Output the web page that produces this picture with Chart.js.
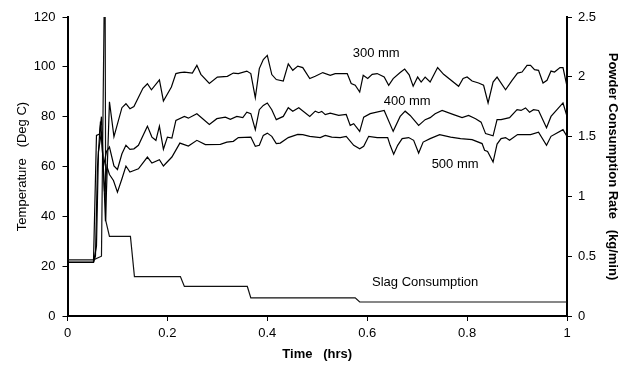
<!DOCTYPE html>
<html>
<head>
<meta charset="utf-8">
<script src="https://cdn.jsdelivr.net/npm/chart.js@4/dist/chart.umd.min.js"></script>
<style>
  html, body { margin: 0; padding: 0; background: #fff; }
  canvas { display: block; }
</style>
</head>
<body>
<canvas id="chart" width="631" height="365"></canvas>
<script>
// time (hrs) and temperature (deg C)
const t300 = [0, 0.052, 0.058, 0.064, 0.068, 0.076, 0.084, 0.093, 0.109, 0.117, 0.125, 0.133, 0.151, 0.16, 0.168, 0.184, 0.192, 0.208, 0.217, 0.225, 0.234, 0.25, 0.259, 0.267, 0.284, 0.3, 0.32, 0.332, 0.342, 0.359, 0.367, 0.376, 0.384, 0.392, 0.4, 0.409, 0.418, 0.432, 0.442, 0.451, 0.461, 0.471, 0.485, 0.496, 0.511, 0.526, 0.536, 0.56, 0.568, 0.576, 0.585, 0.592, 0.601, 0.61, 0.62, 0.634, 0.643, 0.652, 0.666, 0.675, 0.684, 0.692, 0.701, 0.708, 0.716, 0.726, 0.741, 0.753, 0.783, 0.792, 0.8, 0.81, 0.823, 0.833, 0.842, 0.852, 0.86, 0.877, 0.89, 0.901, 0.91, 0.92, 0.927, 0.935, 0.943, 0.952, 0.96, 0.968, 0.975, 0.986, 0.992, 1.0];
const temp300 = [21.5, 21.5, 72.5, 73, 80, 38, 86, 72, 83.6, 85.2, 83.2, 84.1, 91.4, 93.2, 90.8, 94.8, 86.3, 91.9, 97.3, 97.7, 97.9, 97.5, 100.6, 97.0, 93.3, 95.9, 96.2, 97.5, 97.3, 98.3, 97.3, 87.6, 99.3, 102.9, 104.6, 96.9, 94.9, 94.3, 101.2, 98.6, 100.3, 99.7, 95.3, 96.2, 97.7, 96.6, 97.3, 97.3, 93.3, 92.6, 89.9, 96.6, 95.3, 97.0, 97.3, 95.9, 92.6, 95.3, 97.7, 99.1, 96.8, 92.2, 95.9, 93.9, 95.9, 93.9, 99.7, 97.0, 92.2, 95.3, 95.9, 94.3, 93.5, 92.6, 85.5, 93.9, 95.9, 90.8, 94.6, 97.5, 97.9, 100.6, 100.6, 98.9, 98.6, 93.5, 94.6, 98.3, 97.9, 99.7, 99.7, 92.2];

const t400 = [0, 0.052, 0.056, 0.06, 0.066, 0.072, 0.078, 0.084, 0.093, 0.1, 0.109, 0.117, 0.125, 0.133, 0.142, 0.16, 0.169, 0.177, 0.184, 0.192, 0.2, 0.209, 0.217, 0.234, 0.242, 0.259, 0.284, 0.299, 0.316, 0.326, 0.339, 0.351, 0.359, 0.367, 0.376, 0.384, 0.392, 0.4, 0.409, 0.418, 0.432, 0.442, 0.451, 0.463, 0.485, 0.496, 0.503, 0.509, 0.516, 0.526, 0.543, 0.558, 0.566, 0.573, 0.585, 0.593, 0.606, 0.634, 0.652, 0.666, 0.676, 0.686, 0.703, 0.716, 0.726, 0.736, 0.75, 0.773, 0.79, 0.803, 0.817, 0.828, 0.837, 0.852, 0.86, 0.868, 0.885, 0.9, 0.908, 0.917, 0.925, 0.933, 0.943, 0.959, 0.968, 0.992, 1.0];
const temp400 = [21.5, 21.5, 24, 60, 78, 60, 66, 67.8, 60.2, 58.8, 65.1, 68.5, 66.9, 67.1, 68.5, 76.2, 71.8, 70.5, 76.2, 66.9, 71.8, 71.4, 78.5, 80.1, 79.4, 81.2, 76.9, 79.2, 79.8, 78.9, 80.1, 79.6, 81.8, 81.2, 74.8, 82.8, 84.5, 85.5, 82.8, 78.8, 80.1, 83.6, 82.2, 83.6, 80.1, 82.2, 81.6, 82.1, 80.8, 81.4, 80.5, 80.9, 76.5, 77.2, 74.1, 79.8, 81.2, 82.5, 74.1, 80.1, 82.2, 80.5, 76.5, 78.8, 79.6, 81.2, 82.5, 80.8, 79.6, 80.5, 79.2, 77.8, 73.2, 72.3, 78.8, 78.8, 79.6, 82.8, 82.5, 83.5, 81.8, 82.8, 82.5, 75.6, 80.1, 85.5, 80.1];

const t500 = [0, 0.052, 0.058, 0.062, 0.068, 0.074, 0.079, 0.084, 0.092, 0.1, 0.109, 0.117, 0.125, 0.133, 0.142, 0.16, 0.169, 0.184, 0.192, 0.209, 0.225, 0.242, 0.259, 0.276, 0.306, 0.319, 0.332, 0.342, 0.367, 0.376, 0.384, 0.392, 0.4, 0.409, 0.418, 0.426, 0.442, 0.461, 0.471, 0.485, 0.506, 0.516, 0.529, 0.546, 0.558, 0.573, 0.585, 0.593, 0.603, 0.62, 0.641, 0.646, 0.653, 0.661, 0.67, 0.683, 0.693, 0.703, 0.712, 0.726, 0.745, 0.767, 0.787, 0.81, 0.83, 0.835, 0.841, 0.852, 0.86, 0.868, 0.877, 0.885, 0.901, 0.927, 0.943, 0.959, 0.968, 0.992, 1.0];
const temp500 = [21.5, 21.5, 28, 66, 74, 50, 60, 56.8, 54.4, 49.7, 55.1, 60.2, 57.8, 58.4, 59.1, 63.8, 61.4, 62.7, 60.2, 63.8, 69.4, 68.2, 70.5, 68.8, 68.9, 69.8, 70.1, 71.6, 71.8, 68.1, 68.5, 72.5, 73.4, 72.1, 69.2, 69.4, 71.6, 72.9, 72.8, 72.1, 71.6, 72.5, 71.8, 71.6, 72.1, 68.5, 67.1, 68.1, 72.1, 71.6, 71.6, 68.5, 64.9, 68.5, 71.2, 71.6, 70.5, 65.4, 69.8, 71.2, 72.8, 71.8, 71.2, 70.8, 69.2, 66.5, 66.0, 61.8, 69.0, 71.2, 71.6, 70.5, 72.8, 72.8, 73.8, 68.5, 72.1, 74.8, 72.1];

// slag consumption (kg/min), right axis
const tSlag = [0, 0.052, 0.068, 0.075, 0.0765, 0.084, 0.126, 0.134, 0.226, 0.234, 0.36, 0.367, 0.576, 0.585, 1.0];
const slag = [0.47, 0.47, 0.5, 3.2, 0.8, 0.665, 0.665, 0.33, 0.33, 0.247, 0.247, 0.152, 0.152, 0.117, 0.117];

// in-plot labels: [text, x, y, axis]
const labels = [
  ['300 mm', 0.618, 105.3, 'y'],
  ['400 mm', 0.68, 86.3, 'y'],
  ['500 mm', 0.776, 60.8, 'y'],
  ['Slag Consumption', 0.716, 0.28, 'y2']
];

const FONT = '"Liberation Sans", Arial, sans-serif';

function pts(xs, ys) {
  return xs.map((x, i) => ({ x, y: ys[i] }));
}

// 1 instead of 1.0, 2 instead of 2.0
const fmt = v => String(+Number(v).toFixed(2));

const textLabels = {
  id: 'textLabels',
  afterDatasetsDraw(chart) {
    const ctx = chart.ctx;
    ctx.save();
    ctx.font = '13px ' + FONT;
    ctx.fillStyle = '#000';
    ctx.textAlign = 'center';
    ctx.textBaseline = 'middle';
    labels.forEach(([txt, x, y, ax]) => {
      ctx.fillText(txt, chart.scales.x.getPixelForValue(x), chart.scales[ax].getPixelForValue(y));
    });
    ctx.restore();
  }
};

const lineStyle = { borderColor: '#000', borderWidth: 1.2, pointRadius: 0, tension: 0, fill: false };

const tickFont = { family: FONT, size: 13 };
const axisGrid = { drawOnChartArea: false, color: '#000', tickLength: 5, tickWidth: 1 };
const axisBorder = { color: '#000', width: 2 };

new Chart(document.getElementById('chart').getContext('2d'), {
  type: 'line',
  data: {
    datasets: [
      { label: '300 mm', data: pts(t300, temp300), yAxisID: 'y', ...lineStyle },
      { label: '400 mm', data: pts(t400, temp400), yAxisID: 'y', ...lineStyle },
      { label: '500 mm', data: pts(t500, temp500), yAxisID: 'y', ...lineStyle },
      { label: 'Slag Consumption', data: pts(tSlag, slag), yAxisID: 'y2', ...lineStyle, borderColor: '#111' }
    ]
  },
  options: {
    responsive: false,
    animation: false,
    layout: { padding: { top: 17, left: 0, right: 0, bottom: 0 } },
    plugins: {
      legend: { display: false },
      tooltip: { enabled: false }
    },
    scales: {
      x: {
        type: 'linear', min: 0, max: 1,
        ticks: { stepSize: 0.2, color: '#000', font: tickFont, padding: 5, maxRotation: 0, callback: fmt },
        grid: axisGrid,
        border: axisBorder,
        title: { display: true, text: 'Time   (hrs)', color: '#000', font: { family: FONT, size: 13, weight: 'bold' }, padding: { top: 0, bottom: 3 } },
        afterFit: s => { s.height = 49; }
      },
      y: {
        position: 'left', min: 0, max: 120,
        ticks: { stepSize: 20, color: '#000', font: tickFont, padding: 7, callback: fmt },
        grid: axisGrid,
        border: axisBorder,
        title: { display: true, text: 'Temperature   (Deg C)', color: '#000', font: { family: FONT, size: 13 }, padding: { top: 15, bottom: 0 } },
        afterFit: s => { s.width = 67.5; }
      },
      y2: {
        position: 'right', min: 0, max: 2.5,
        ticks: { stepSize: 0.5, color: '#000', font: tickFont, padding: 6, callback: fmt },
        grid: axisGrid,
        border: axisBorder,
        title: { display: true, text: 'Powder Consumption Rate   (kg/min)', color: '#000', font: { family: FONT, size: 13, weight: 'bold' }, padding: { top: 11, bottom: 0 } },
        afterFit: s => { s.width = 64; }
      }
    }
  },
  plugins: [textLabels]
});
</script>
</body>
</html>
